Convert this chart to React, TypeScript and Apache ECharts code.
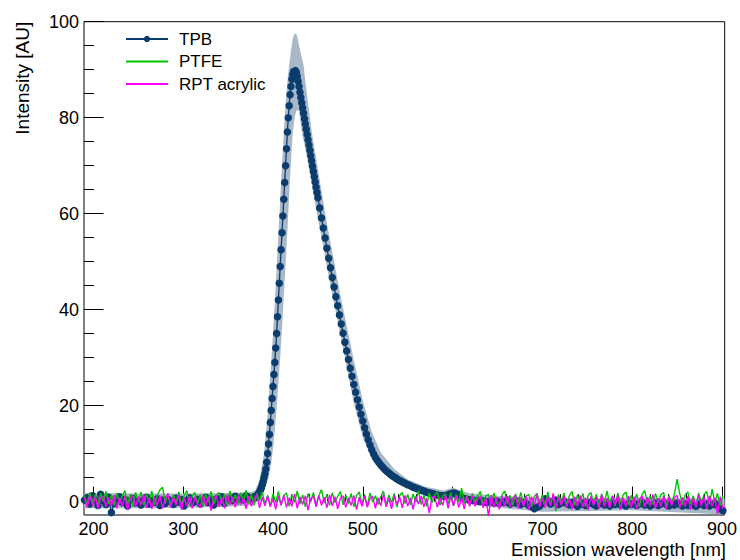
import React, { useEffect, useRef } from "react";
import * as echarts from "echarts";

const FONT = "'Liberation Sans', Arial, Helvetica, sans-serif";

// ---- axes ----
const xMin = 189.5;
const xMax = 903;
const yMin = -2.8;
const yMax = 100;
const xMajorTicks = [200, 300, 400, 500, 600, 700, 800, 900];
const xMinorTicks = [220, 240, 260, 280, 320, 340, 360, 380, 420, 440, 460, 480, 520, 540, 560, 580, 620, 640, 660, 680, 720, 740, 760, 780, 820, 840, 860, 880];
const yMajorTicks = [0, 20, 40, 60, 80, 100];
const yMinorTicks = [5, 10, 15, 25, 30, 35, 45, 50, 55, 65, 70, 75, 85, 90, 95];

// ---- TPB (wavelength grid: start + i*step per segment) ----
const tpbLeftStart = 190, tpbLeftStep = 3;
const tpbLeft = [
  0.3, 0.8, -0.5, 1.2, 0.4, -0.8, 1.5, 0.2, -0.6, 0.9,
  -2.3, -0.4, 0.6, 1.0, -0.2, 0.5, -0.9, 0.3, 0.7, -0.3,
  0.1, -0.7, 0.4, 0.9, -0.5, 0.2, -0.2, 0.6, -0.8, 0.3,
  -0.4, 0.5, 0.1, -0.6, 0.7, -0.1, 0.4, -0.9, 0.2, 0.8,
  -0.3, 0.0, 0.5, -0.5, 0.3, 0.9, -0.2, 0.4, -0.7, 0.6,
  0.1, 1.0, -0.4, 0.3, 0.7, 0.2, 1.1, 0.5, 0.8, 0.4,
  1.2, 0.9, 0.6, 1.0,
];
const tpbPeakStart = 380, tpbPeakStep = 1;
const tpbPeak = [
  0.8, 1.0, 1.2, 1.4, 1.7, 2.0, 2.4, 2.9, 3.5, 4.2,
  5.0, 5.8, 6.8, 8.2, 10.0, 12.0, 14.0, 16.5, 19.0, 21.5,
  24.0, 26.5, 29.0, 32.0, 35.0, 38.5, 42.0, 45.5, 49.0, 52.5,
  56.0, 59.5, 63.0, 66.5, 70.0, 73.5, 77.0, 80.0, 82.5, 84.8,
  86.5, 88.0, 89.0, 89.6, 89.3, 89.8, 89.4, 88.6, 87.6, 86.5,
  85.3, 84.2, 83.1, 82.0, 80.9, 79.8, 78.7, 77.6, 76.5, 75.4,
  74.3, 73.2, 72.1, 71.0, 69.9, 68.8, 67.7, 66.6, 65.5, 64.4,
  63.3,
];
const tpbTailStart = 452, tpbTailStep = 2;
const tpbTail = [
  61.2, 59.1, 57.0, 54.9, 52.8, 50.7, 48.7, 46.7, 44.7, 42.7,
  40.8, 38.9, 37.0, 35.1, 33.2, 31.4, 29.6, 27.8, 26.1, 24.4,
  22.8, 21.2, 19.7, 18.2, 16.8, 15.4, 14.1, 12.9, 11.8, 10.8,
  9.9, 9.2, 8.6, 8.1, 7.6, 7.2, 6.8, 6.4, 6.1, 5.8,
  5.5, 5.2, 5.0, 4.7, 4.5, 4.3, 4.1, 3.9, 3.7, 3.5,
  3.4, 3.2, 3.0, 2.9, 2.7, 2.6, 2.4, 2.3, 2.2, 2.0,
  1.9, 1.8, 1.7, 1.6, 1.5, 1.4, 1.3, 1.2, 1.2, 1.1,
  1.2, 1.3, 1.5, 1.6, 1.7, 1.8, 1.6, 1.4, 1.2, 0.9,
  0.7, 0.6, 0.5, 0.4, 0.3, 0.4, 0.2, 0.1, 0.3, 0.0,
  0.2, -0.1, 0.1, -0.2, 0.0,
];
const tpbRightStart = 643, tpbRightStep = 3;
const tpbRight = [
  0.2, -0.3, 0.1, -0.4, 0.0, -0.2, 0.3, -0.5, -0.1, -0.3,
  0.1, -0.6, -0.2, -0.4, -0.8, -1.1, -1.5, -1.2, -0.9, -0.4,
  0.6, 0.2, -0.5, -0.2, 0.3, -0.6, -0.3, 0.1, -0.4, -0.7,
  -0.2, -0.5, -1.0, -0.6, -0.3, -0.8, -0.4, -0.1, -0.6, -0.9,
  -0.5, -0.2, -0.7, -0.4, -0.9, -0.3, -0.6, -0.2, -0.7, -0.5,
  -0.9, -0.4, -0.6, -0.3, -0.8, -0.5, -0.2, -0.7, -0.4, -0.9,
  -0.6, -0.3, -0.8, -0.5, -0.2, -0.6, -0.9, -0.4, -0.7, -0.3,
  -0.6, -0.9, -0.5, -0.8, -0.4, -0.7, -1.0, -0.6, -0.3, -0.8,
  -0.5, -0.9, -0.6, -0.4, -0.9, -1.5, -1.9,
];

// ---- TPB uncertainty band (upper and lower edges) ----
const bandUpperWl = [190, 250, 300, 350, 375, 380, 385, 390, 393, 395, 398, 400, 403, 405, 408, 410, 412, 414, 416, 418, 420, 422, 424, 426, 428, 430, 432, 434, 437, 440, 444, 448, 452, 456, 460, 465, 470, 475, 480, 490, 500, 510, 520, 535, 550, 570, 590, 600, 620, 650, 700, 800, 903];
const bandUpper = [1.8, 1.7, 1.7, 1.8, 2.0, 2.3, 4.5, 10, 16, 21, 29, 35, 45, 52, 63, 70, 77, 83, 87.5, 91, 94, 96.5, 97.5, 97.5, 96, 94.2, 92.5, 91, 86, 81.5, 76, 71.5, 67, 62.5, 58, 53, 48, 43, 38.5, 29.5, 21, 14.5, 10.2, 6.8, 4.6, 3.1, 2.3, 2.9, 1.7, 1.2, 0.7, 0.8, 0.6];
const bandLowerWl = [190, 250, 300, 350, 375, 380, 385, 390, 393, 395, 398, 400, 403, 405, 408, 410, 413, 415, 417, 418, 420, 422, 424, 426, 429, 431, 433, 435, 438, 440, 445, 450, 455, 460, 465, 470, 480, 490, 500, 510, 520, 535, 550, 570, 590, 600, 620, 650, 700, 800, 903];
const bandLower = [-1.4, -1.4, -1.3, -1.1, -0.8, -0.4, 0.6, 2.2, 3.8, 5.0, 8, 11, 17, 22, 30, 36, 46, 53, 60, 64, 71, 77, 80, 81.5, 81.5, 78.5, 76, 74.5, 71.5, 69.5, 64, 59, 54, 49, 44, 39.5, 30, 20.5, 13.3, 9, 6.8, 4.6, 3.0, 1.4, 0.4, 0.6, -0.6, -1.3, -2.1, -1.8, -2.7];

// ---- PTFE and RPT acrylic (wavelength = 190 + 3*i) ----
const noiseStart = 190, noiseStep = 3;
const ptfe = [
  1.2, -0.6, 1.9, -0.3, 1.5, -0.9, 1.7, 0.0, 2.1, -0.5,
  1.4, -0.8, 1.8, -0.4, 1.1, 2.3, -0.6, 1.5, -1.0, 1.9,
  0.0, 2.0, -0.7, 1.6, -0.2, 2.2, -0.8, 1.3, 2.4, 3.0,
  -0.4, 1.7, -0.9, 1.4, -0.3, 2.0, -0.7, 1.2, 2.3, -0.8,
  1.1, 1.9, -0.5, 1.5, -1.0, 1.6, -0.2, 2.1, -0.6, 1.3,
  1.9, -0.4, 1.6, -0.9, 2.2, -0.1, 1.4, -0.7, 1.8, 0.0,
  2.4, -0.5, 1.5, -0.8, 1.7, 0.1, 2.0, -0.6, 1.3, -0.9,
  1.6, -0.3, 2.1, -0.7, 1.2, 1.8, -1.0, 1.5, -0.2, 2.2,
  -0.5, 1.4, -1.1, 1.7, -0.1, 1.9, -0.7, 1.2, 2.5, -0.3,
  1.5, -0.8, 1.8, -0.2, 1.1, 2.1, -0.7, 1.4, -0.4, 1.7,
  -1.1, 1.3, 2.0, -0.5, 1.5, -0.9, 1.8, -0.1, 1.2, -0.6,
  1.0, 2.2, -0.8, 1.4, -0.3, 1.7, -1.2, 1.2, 1.9, -0.4,
  1.5, -0.7, 1.6, -0.1, 2.3, -0.6, 1.3, -1.0, 1.8, -0.3,
  1.4, 2.0, -0.8, 1.2, 1.6, -0.5, 1.9, -0.9, 1.5, -0.1,
  2.8, -0.4, 1.4, -0.9, 1.7, -0.2, 1.3, 2.1, -0.7, 1.2,
  1.5, -0.6, 1.8, -0.3, -1.0, 1.4, 2.2, -0.4, 1.3, -0.8,
  1.6, -0.2, 1.9, -0.7, 1.2, 1.5, -1.1, 1.1, 1.7, -0.4,
  1.4, -0.9, 2.0, -0.5, 1.3, -2.0, 1.5, -0.3, 1.8, -0.6,
  1.2, 2.1, -0.8, 1.4, -0.2, 1.7, -1.0, 1.3, 1.9, -0.4,
  1.5, -0.7, 1.6, -0.1, 2.2, -0.6, 1.2, -0.9, 1.8, -0.2,
  1.4, 2.0, -0.8, 1.3, -0.3, 1.6, -1.1, 1.5, 2.3, -0.5,
  1.2, -0.7, 1.7, -0.2, 1.4, 1.9, -0.9, 1.3, -0.4, 1.6,
  4.7, 1.6, -0.8, 1.4, 2.0, -0.5, 1.2, -1.0, 1.8, -0.3,
  1.5, 2.1, -0.6, 2.6, -0.2, 1.7, -0.9, 1.3,
];
const rptAcrylic = [
  0.9, -1.2, 1.3, -0.8, 1.0, -1.5, 0.7, 1.2, -1.1, 0.8,
  -0.9, 1.4, -1.4, 0.8, -1.0, 1.2, -1.8, 0.6, 1.3, -1.1,
  1.0, -0.8, 1.5, -1.3, 0.7, -1.5, 1.0, -0.9, 1.3, -1.4,
  0.6, 1.6, -1.2, 0.9, -0.7, 1.3, -1.7, 0.8, -1.0, 1.1,
  -1.4, 1.0, -0.5, -1.2, 1.4, -0.9, 1.1, -1.9, 0.7, 1.2,
  -1.1, 0.9, -1.4, 1.5, -0.7, 1.0, -1.2, 1.3, -0.6, 0.8,
  -1.5, 1.2, -1.0, 0.7, 1.4, -1.3, 0.9, -0.9, 1.2, -1.1,
  0.6, -1.6, 1.1, -0.8, 1.3, -1.2, 0.8, -1.0, 1.6, -1.4,
  1.0, -0.6, 1.2, -1.8, 0.7, 1.1, -1.1, 1.3, -0.8, 0.9,
  -1.3, 1.4, -0.9, 1.0, -1.5, 0.7, 1.2, -1.2, 0.8, -0.8,
  1.3, -1.7, 0.9, -1.0, 1.2, -1.2, 0.6, 1.1, -1.4, 0.8,
  -0.9, 1.5, -1.1, 0.7, -1.5, 1.2, -0.7, 1.0, -1.3, 1.3,
  -1.0, 0.8, -1.6, 1.1, -0.5, 1.2, -1.1, 0.7, -2.4, 0.9,
  1.1, -1.2, 0.8, -0.8, 1.4, -1.4, 1.0, -0.9, 1.2, -1.2,
  0.7, -1.5, 1.1, -1.0, 1.3, -1.0, 0.6, 1.0, -1.3, 0.8,
  -3.1, 1.4, -1.2, 0.9, -1.6, 1.1, -0.9, 1.2, -1.1, 0.7,
  1.3, -1.4, 0.8, -1.0, 1.1, -1.7, 1.0, -0.7, 1.5, -1.1,
  0.7, -1.3, 1.1, -0.9, 1.7, -1.5, 0.9, -0.8, 1.2, -1.2,
  0.6, -1.6, 1.0, -1.0, 1.3, -1.1, 0.8, -1.8, 1.1, -0.8,
  0.9, -1.4, 1.4, -1.0, 0.7, -1.3, 1.1, -0.7, 1.3, -1.7,
  0.8, -1.0, 1.2, -1.2, 1.0, -1.5, 0.6, 1.1, -1.1, 0.9,
  -0.9, 1.5, -1.4, 0.7, -1.0, 1.2, -1.6, 1.0, -0.8, 0.8,
  1.3, -1.3, 0.9, -1.0, 1.1, -1.7, 0.7, -1.1, 1.4, -0.9,
  1.0, -1.5, 1.2, -1.0, 0.8, -2.6, 1.0, -1.5,
];

const TPB_COLOR = "#0b3c6e";
const BAND_COLOR = "#a9b8c7";
const PTFE_COLOR = "#00c400";
const RPT_COLOR = "#ff00ff";

function toPoints(start: number, step: number, values: number[]) {
  return values.map((v, i) => [start + i * step, v]);
}

export default function App() {
  const ref = useRef<HTMLDivElement>(null);

  useEffect(() => {
    if (!ref.current) return;
    const chart = echarts.init(ref.current, undefined, { renderer: "svg" });

    const tpbData = [
      ...toPoints(tpbLeftStart, tpbLeftStep, tpbLeft),
      ...toPoints(tpbPeakStart, tpbPeakStep, tpbPeak),
      ...toPoints(tpbTailStart, tpbTailStep, tpbTail),
      ...toPoints(tpbRightStart, tpbRightStep, tpbRight),
    ];
    const upperPts = bandUpperWl.map((w, i) => [w, bandUpper[i]]);
    const lowerPts = bandLowerWl.map((w, i) => [w, bandLower[i]]);

    const tickStyle = { color: "#000", width: 1 };
    const labelStyle = { fontSize: 18, color: "#000", fontFamily: FONT };

    const option: any = {
      animation: false,
      backgroundColor: "#fff",
      grid: {
        left: 84,
        right: 13.5,
        top: 21.7,
        bottom: 45,
        show: true,
        borderColor: "#000",
        borderWidth: 1,
        containLabel: false,
      },
      xAxis: [
        {
          type: "value",
          min: xMin,
          max: xMax,
          position: "bottom",
          axisLine: { show: false },
          splitLine: { show: false },
          axisTick: { show: true, inside: true, length: 15, customValues: xMajorTicks, lineStyle: tickStyle },
          axisLabel: { show: true, customValues: xMajorTicks, margin: 5, ...labelStyle },
        },
        {
          type: "value",
          min: xMin,
          max: xMax,
          position: "bottom",
          axisLine: { show: false },
          splitLine: { show: false },
          axisTick: { show: true, inside: true, length: 7.5, customValues: xMinorTicks, lineStyle: tickStyle },
          axisLabel: { show: false },
        },
      ],
      yAxis: [
        {
          type: "value",
          min: yMin,
          max: yMax,
          position: "left",
          axisLine: { show: false },
          splitLine: { show: false },
          axisTick: { show: true, inside: true, length: 19.5, customValues: yMajorTicks, lineStyle: tickStyle },
          axisLabel: { show: true, customValues: yMajorTicks, margin: 5, ...labelStyle },
        },
        {
          type: "value",
          min: yMin,
          max: yMax,
          position: "left",
          axisLine: { show: false },
          splitLine: { show: false },
          axisTick: { show: true, inside: true, length: 10, customValues: yMinorTicks, lineStyle: tickStyle },
          axisLabel: { show: false },
        },
      ],
      legend: {
        orient: "vertical",
        left: 125,
        top: 29,
        padding: 0,
        itemWidth: 42,
        itemHeight: 8,
        itemGap: 2.5,
        textStyle: { fontSize: 17, color: "#000", fontFamily: FONT, lineHeight: 20, padding: [0, 0, 0, 6] },
        data: [
          { name: "TPB" },
          { name: "PTFE", itemStyle: { opacity: 0 } },
          { name: "RPT acrylic", itemStyle: { opacity: 0 } },
        ],
      },
      graphic: [
        {
          type: "text",
          x: 726,
          y: 549,
          style: {
            text: "Emission wavelength [nm]",
            align: "right",
            textAlign: "right",
            verticalAlign: "middle",
            textVerticalAlign: "middle",
            fontSize: 18.5,
            fontFamily: FONT,
            fill: "#000",
          },
        },
        {
          type: "text",
          x: 22,
          y: 21.7,
          rotation: Math.PI / 2,
          style: {
            text: "Intensity [AU]",
            align: "right",
            textAlign: "right",
            verticalAlign: "middle",
            textVerticalAlign: "middle",
            fontSize: 19,
            fontFamily: FONT,
            fill: "#000",
          },
        },
      ],
      series: [
        {
          name: "TPB band",
          type: "custom",
          xAxisIndex: 0,
          yAxisIndex: 0,
          silent: true,
          clip: true,
          z: 1,
          data: upperPts,
          encode: { x: 0, y: 1 },
          renderItem: (params: any, api: any) => {
            if (params.dataIndex !== 0) return null;
            const pts: number[][] = [];
            upperPts.forEach((p) => pts.push(api.coord(p)));
            for (let i = lowerPts.length - 1; i >= 0; i--) pts.push(api.coord(lowerPts[i]));
            return { type: "polygon", shape: { points: pts }, style: { fill: BAND_COLOR } };
          },
        },
        {
          name: "TPB",
          type: "line",
          xAxisIndex: 0,
          yAxisIndex: 0,
          z: 2,
          data: tpbData,
          symbol: "circle",
          symbolSize: 7.5,
          showSymbol: true,
          lineStyle: { color: TPB_COLOR, width: 1.3 },
          itemStyle: { color: TPB_COLOR },
        },
        {
          name: "PTFE",
          type: "line",
          xAxisIndex: 0,
          yAxisIndex: 0,
          z: 3,
          data: toPoints(noiseStart, noiseStep, ptfe),
          symbol: "none",
          lineStyle: { color: PTFE_COLOR, width: 1.4 },
          itemStyle: { color: PTFE_COLOR },
        },
        {
          name: "RPT acrylic",
          type: "line",
          xAxisIndex: 0,
          yAxisIndex: 0,
          z: 4,
          data: toPoints(noiseStart, noiseStep, rptAcrylic),
          symbol: "none",
          lineStyle: { color: RPT_COLOR, width: 1.4 },
          itemStyle: { color: RPT_COLOR },
        },
      ],
    };

    chart.setOption(option);
    return () => chart.dispose();
  }, []);

  return (
    <div
      ref={ref}
      style={{ position: "fixed", left: 0, top: 0, width: 740, height: 560, background: "#fff" }}
    />
  );
}
